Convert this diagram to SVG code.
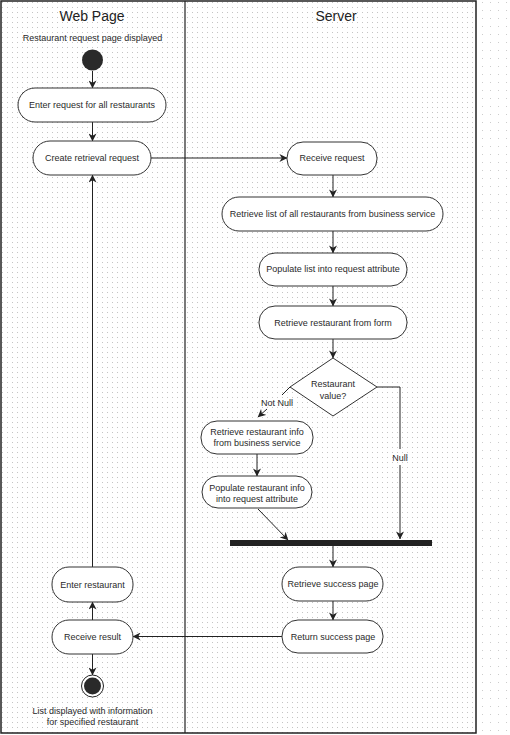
<svg xmlns="http://www.w3.org/2000/svg" width="510" height="735" viewBox="0 0 510 735">
<defs>
<pattern id="dots" width="5" height="5" patternUnits="userSpaceOnUse"><rect x="2" y="2" width="1" height="1" fill="#c4c4c4"/></pattern>
<pattern id="dots2" width="8" height="8" patternUnits="userSpaceOnUse"><rect x="2" y="2" width="1" height="1" fill="#cccccc"/></pattern>
<marker id="arr" viewBox="0 0 10 10" refX="9.5" refY="5" markerWidth="8" markerHeight="8" markerUnits="userSpaceOnUse" orient="auto"><path d="M0,0 L10,5 L0,10 L3,5 z" fill="#222"/></marker>
<style>
.node rect, .node polygon {fill:#fff; stroke:#333; stroke-width:1}
text {font-family:"Liberation Sans", Arial, sans-serif; font-size:9px; fill:#2a2a2a; text-anchor:middle}
.hdr {font-size:14px; fill:#222}
.edge {fill:none; stroke:#222; stroke-width:1}
.arrow {marker-end:url(#arr)}
</style>
</defs>
<rect x="0" y="0" width="510" height="735" fill="#fff"/>
<rect x="0" y="0" width="510" height="735" fill="url(#dots2)"/>
<g id="frame">
<rect x="1" y="1" width="475" height="732" fill="#fff"/>
<rect x="1" y="1" width="475" height="732" fill="url(#dots)" stroke="#222" stroke-width="1.5"/>
<line x1="185" y1="1" x2="185" y2="733" stroke="#222" stroke-width="1.2"/>
<text class="hdr" x="92" y="21">Web Page</text>
<text class="hdr" x="336" y="21">Server</text>
</g>
<g id="connectors">
<path class="edge arrow" d="M92.5,71 V88"/>
<path class="edge arrow" d="M92.5,122 V141"/>
<path class="edge arrow" d="M151,158 H287"/>
<path class="edge arrow" d="M333,175 V197"/>
<path class="edge arrow" d="M333,231 V253"/>
<path class="edge arrow" d="M333,286 V306"/>
<path class="edge arrow" d="M333,339 V358"/>
<path class="edge" d="M290,387 L282,395"/>
<path class="edge arrow" d="M267,409 L258,417"/>
<text x="277" y="406">Not Null</text>
<path class="edge" d="M377,387 H400 V449"/>
<path class="edge arrow" d="M400,465 V539"/>
<text x="400" y="461">Null</text>
<path class="edge arrow" d="M257,454 V476"/>
<path class="edge arrow" d="M258,509 L288,540"/>
<path class="edge arrow" d="M333,546 V567"/>
<path class="edge arrow" d="M333,601 V620"/>
<path class="edge arrow" d="M282,636.5 H133"/>
<path class="edge arrow" d="M92.5,620 V602"/>
<path class="edge arrow" d="M92.5,567 V175"/>
<path class="edge arrow" d="M92.5,654 V675"/>
</g>
<g id="start"><text x="92.5" y="41">Restaurant request page displayed</text><circle cx="92.5" cy="60" r="10.5" fill="#2a2a2a"/></g>
<g id="enter-request" class="node"><rect x="18" y="88" width="148" height="34" rx="17"/><text x="92" y="108">Enter request for all restaurants</text></g>
<g id="create-retrieval" class="node"><rect x="33" y="141" width="118" height="34" rx="17"/><text x="92" y="161">Create retrieval request</text></g>
<g id="receive-request" class="node"><rect x="287" y="142" width="90" height="33" rx="16"/><text x="332" y="161">Receive request</text></g>
<g id="retrieve-list" class="node"><rect x="222" y="197" width="221" height="34" rx="17"/><text x="332.5" y="217">Retrieve list of all restaurants from business service</text></g>
<g id="populate-list" class="node"><rect x="259" y="253" width="148" height="33" rx="16"/><text x="333" y="272">Populate list into request attribute</text></g>
<g id="retrieve-form" class="node"><rect x="259" y="306" width="148" height="33" rx="16"/><text x="333" y="326">Retrieve restaurant from form</text></g>
<g id="decision" class="node"><polygon points="333,358 377,387 333,416 290,387"/><text x="333" y="387">Restaurant</text><text x="333" y="399">value?</text></g>
<g id="retrieve-info" class="node"><rect x="201" y="421" width="112" height="33" rx="16"/><text x="257" y="435">Retrieve restaurant info</text><text x="257" y="446">from business service</text></g>
<g id="populate-info" class="node"><rect x="202" y="476" width="110" height="32" rx="16"/><text x="257" y="491">Populate restaurant info</text><text x="257" y="502">into request attribute</text></g>
<g id="join"><rect x="230" y="540" width="202" height="6" fill="#222"/></g>
<g id="retrieve-success" class="node"><rect x="282" y="567" width="101" height="34" rx="17"/><text x="333" y="587">Retrieve success page</text></g>
<g id="return-success" class="node"><rect x="282" y="620" width="101" height="33" rx="16"/><text x="333" y="640">Return success page</text></g>
<g id="receive-result" class="node"><rect x="52" y="620" width="81" height="34" rx="17"/><text x="92.5" y="640">Receive result</text></g>
<g id="enter-restaurant" class="node"><rect x="52" y="567" width="81" height="35" rx="17"/><text x="92.5" y="588">Enter restaurant</text></g>
<g id="end"><circle cx="92.5" cy="686" r="11" fill="#fff" stroke="#222" stroke-width="1"/><circle cx="92.5" cy="686" r="8.5" fill="#2a2a2a"/><text x="92.5" y="714">List displayed with information</text><text x="92.5" y="725">for specified restaurant</text></g>
</svg>
